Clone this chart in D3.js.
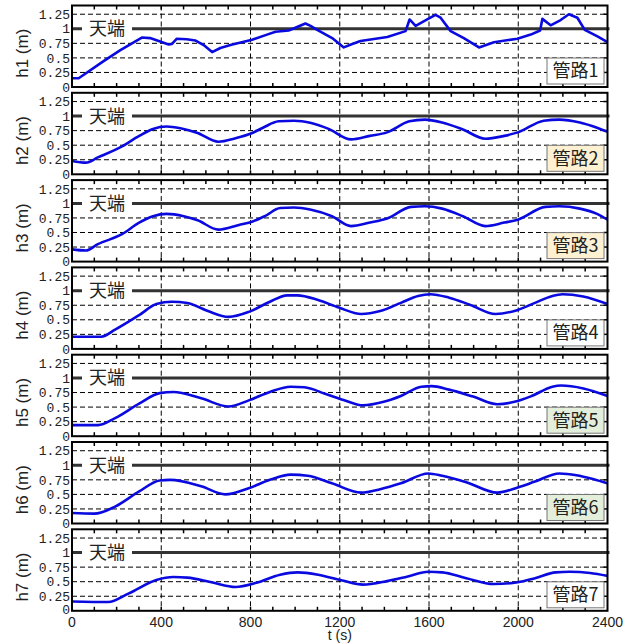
<!DOCTYPE html>
<html>
<head>
<meta charset="utf-8">
<script src="https://cdn.jsdelivr.net/npm/d3@7"></script>
<style>
  body { margin: 0; background: #fff; }
  svg { display: block; }
</style>
</head>
<body>
<div id="container"></div>
<script>
// t (s), h (m)
const h1 = [[0,0.15],[30,0.15],[140,0.44],[215,0.63],[313,0.85],[350,0.84],[433,0.73],[448,0.74],[470,0.83],[515,0.82],[552,0.8],[590,0.72],[628,0.6],[665,0.67],[710,0.72],[807,0.81],[874,0.9],[912,0.95],[971,0.97],[1009,1.03],[1046,1.09],[1069,1.05],[1099,0.98],[1166,0.84],[1218,0.68],[1250,0.73],[1293,0.79],[1413,0.86],[1495,0.96],[1513,1.16],[1540,1.05],[1592,1.16],[1629,1.24],[1652,1.19],[1697,0.96],[1756,0.84],[1824,0.68],[1891,0.77],[1996,0.83],[2056,0.9],[2098,0.97],[2108,1.17],[2145,1.06],[2190,1.15],[2227,1.25],[2265,1.19],[2298,0.98],[2355,0.87],[2400,0.77]];
const h2 = [[0,0.23],[62,0.2],[116,0.29],[224,0.48],[301,0.66],[363,0.78],[424,0.82],[486,0.79],[563,0.71],[656,0.56],[733,0.62],[802,0.7],[856,0.8],[926,0.91],[995,0.92],[1072,0.88],[1150,0.78],[1250,0.6],[1335,0.66],[1412,0.72],[1512,0.91],[1582,0.94],[1659,0.89],[1752,0.77],[1852,0.61],[1937,0.66],[1998,0.72],[2114,0.92],[2184,0.94],[2276,0.89],[2353,0.8],[2400,0.73]];
const h3 = [[0,0.21],[62,0.19],[116,0.3],[224,0.47],[301,0.67],[363,0.78],[424,0.82],[501,0.78],[563,0.71],[656,0.55],[748,0.63],[810,0.69],[864,0.78],[933,0.92],[995,0.93],[1072,0.89],[1165,0.78],[1250,0.61],[1335,0.67],[1412,0.74],[1520,0.94],[1582,0.95],[1659,0.91],[1752,0.78],[1852,0.61],[1937,0.67],[1998,0.72],[2122,0.94],[2184,0.95],[2276,0.91],[2353,0.82],[2400,0.72]];
const h4 = [[0,0.21],[131,0.21],[193,0.33],[301,0.58],[378,0.77],[447,0.81],[517,0.79],[609,0.65],[702,0.55],[795,0.64],[887,0.81],[964,0.92],[1010,0.92],[1103,0.84],[1196,0.71],[1296,0.6],[1381,0.65],[1474,0.79],[1551,0.91],[1605,0.94],[1690,0.88],[1783,0.76],[1898,0.6],[1998,0.67],[2075,0.79],[2153,0.91],[2199,0.94],[2291,0.9],[2400,0.77]];
const h5 = [[0,0.19],[116,0.19],[193,0.31],[301,0.56],[393,0.74],[455,0.76],[579,0.65],[702,0.51],[795,0.62],[887,0.76],[980,0.85],[1042,0.84],[1134,0.73],[1227,0.61],[1304,0.53],[1397,0.59],[1474,0.69],[1566,0.85],[1612,0.86],[1690,0.8],[1798,0.68],[1906,0.55],[1983,0.59],[2060,0.69],[2153,0.85],[2192,0.87],[2292,0.82],[2400,0.69]];
const h6 = [[0,0.18],[100,0.17],[193,0.29],[301,0.55],[393,0.74],[440,0.75],[579,0.64],[687,0.5],[795,0.61],[887,0.75],[980,0.84],[1057,0.82],[1165,0.69],[1296,0.53],[1381,0.59],[1474,0.69],[1597,0.86],[1659,0.82],[1767,0.71],[1906,0.53],[1998,0.62],[2075,0.72],[2184,0.86],[2261,0.83],[2338,0.76],[2400,0.69]];
const h7 = [[0,0.16],[162,0.15],[255,0.3],[378,0.53],[455,0.58],[517,0.57],[625,0.49],[733,0.41],[826,0.48],[933,0.62],[1011,0.66],[1103,0.62],[1211,0.52],[1304,0.45],[1412,0.51],[1505,0.59],[1597,0.67],[1659,0.66],[1767,0.56],[1890,0.46],[1998,0.49],[2075,0.56],[2168,0.66],[2230,0.67],[2322,0.65],[2400,0.6]];

const series = [h1, h2, h3, h4, h5, h6, h7];
const yLabels = ['h1 (m)', 'h2 (m)', 'h3 (m)', 'h4 (m)', 'h5 (m)', 'h6 (m)', 'h7 (m)'];
const pipeNames = ['管路1', '管路2', '管路3', '管路4', '管路5', '管路6', '管路7'];
const pipeFills = ['#ffffff', '#fdf1d2', '#fdf1d2', '#ffffff', '#e3efdb', '#e3efdb', '#ffffff'];
const yTicks = [0, 0.25, 0.5, 0.75, 1, 1.25];
const yTickText = ['0', '0.25', '0.5', '0.75', '1', '1.25'];
const xTicks = [0, 400, 800, 1200, 1600, 2000, 2400];
const crownLevel = 1;
const crownLabel = '天端';

const W = 633, H = 643;
const left = 72, right = 607.5;
const panelTop0 = 5.5, panelH = 81.5, pitch = 87.3;

const svg = d3.select('#container').append('svg')
  .attr('width', W).attr('height', H);

const x = d3.scaleLinear().domain([0, 2400]).range([left, right]);
const jp = '"Noto Sans CJK JP", "Noto Sans", sans-serif';

series.forEach((data, i) => {
  const top = panelTop0 + i * pitch;
  const bottom = top + panelH;
  const y = d3.scaleLinear().domain([0, 1.4]).range([bottom, top]);
  const g = svg.append('g');
  const isLast = i === series.length - 1;

  // dashed grid
  g.selectAll('.hg').data(yTicks.filter(d => d > 0)).join('line')
    .attr('x1', left).attr('x2', right)
    .attr('y1', d => y(d)).attr('y2', d => y(d))
    .attr('stroke', '#000').attr('stroke-width', 1).attr('stroke-dasharray', '5,3');
  g.selectAll('.vg').data(xTicks.slice(1, -1)).join('line')
    .attr('x1', d => x(d)).attr('x2', d => x(d))
    .attr('y1', top).attr('y2', bottom)
    .attr('stroke', '#000').attr('stroke-width', 1).attr('stroke-dasharray', '5,3');

  // inward minor ticks on top and bottom
  const minor = d3.range(100, 2400, 100);
  g.selectAll('.tt').data(minor).join('line')
    .attr('x1', d => x(d)).attr('x2', d => x(d))
    .attr('y1', top).attr('y2', top + 4)
    .attr('stroke', '#000').attr('stroke-width', 1.5);
  g.selectAll('.bt').data(minor).join('line')
    .attr('x1', d => x(d)).attr('x2', d => x(d))
    .attr('y1', bottom).attr('y2', bottom - 4)
    .attr('stroke', '#000').attr('stroke-width', 1.5);
  g.selectAll('.rt').data(yTicks.filter(d => d > 0)).join('line')
    .attr('x1', right).attr('x2', right - 4)
    .attr('y1', d => y(d)).attr('y2', d => y(d))
    .attr('stroke', '#000').attr('stroke-width', 1.5);

  // crown line with label
  g.append('line')
    .attr('x1', left).attr('x2', right + 2)
    .attr('y1', y(crownLevel)).attr('y2', y(crownLevel))
    .attr('stroke', '#333').attr('stroke-width', 3);
  g.append('rect')
    .attr('x', left + 10).attr('y', y(crownLevel) - 9)
    .attr('width', 50).attr('height', 18)
    .attr('fill', '#fff');
  g.append('text')
    .attr('x', left + 35).attr('y', y(crownLevel))
    .attr('dy', '0.36em')
    .attr('text-anchor', 'middle')
    .attr('font-family', jp).attr('font-size', 18)
    .attr('fill', '#222')
    .text(crownLabel);

  // water level
  const line = d3.line()
    .x(d => x(d[0])).y(d => y(d[1]))
    .curve(i === 0 ? d3.curveLinear : d3.curveMonotoneX);
  g.append('path')
    .datum(data)
    .attr('d', line)
    .attr('fill', 'none')
    .attr('stroke', '#0a0ae0')
    .attr('stroke-width', 2.6)
    .attr('stroke-linejoin', 'round');

  // frame
  g.append('rect')
    .attr('x', left).attr('y', top)
    .attr('width', right - left).attr('height', panelH)
    .attr('fill', 'none').attr('stroke', '#000').attr('stroke-width', 2);

  // y tick labels; on the last panel the "0" sits a bit high to clear the x labels
  g.selectAll('.yl').data(yTicks).join('text')
    .attr('x', left - 2).attr('y', d => y(d))
    .attr('dy', d => (isLast && d === 0) ? '0.28em' : '0.36em')
    .attr('text-anchor', 'end')
    .attr('font-family', '"Liberation Mono", "DejaVu Sans Mono", monospace')
    .attr('font-size', 13)
    .attr('fill', '#222')
    .text((d, k) => yTickText[k]);

  // y title
  g.append('text')
    .attr('transform', `translate(28,${(top + bottom) / 2 + 7}) rotate(-90)`)
    .attr('text-anchor', 'middle')
    .attr('font-family', '"Liberation Sans", sans-serif')
    .attr('font-size', 17)
    .attr('fill', '#222')
    .text(yLabels[i]);

  // pipe legend
  const bw = 57, bh = 26;
  g.append('rect')
    .attr('x', right - 3.5 - bw).attr('y', bottom - 3 - bh)
    .attr('width', bw).attr('height', bh)
    .attr('fill', pipeFills[i]).attr('stroke', '#777').attr('stroke-width', 1);
  g.append('text')
    .attr('x', right - 3.5 - bw / 2).attr('y', bottom - 3 - bh / 2)
    .attr('dy', '0.36em')
    .attr('text-anchor', 'middle')
    .attr('font-family', jp).attr('font-size', 18)
    .attr('fill', '#222')
    .text(pipeNames[i]);
});

// x axis labels under the last panel
const lastBottom = panelTop0 + 6 * pitch + panelH;
svg.selectAll('.xl').data(xTicks).join('text')
  .attr('x', d => x(d)).attr('y', lastBottom + 11)
  .attr('dy', '0.36em')
  .attr('text-anchor', 'middle')
  .attr('font-family', '"Liberation Sans", sans-serif')
  .attr('font-size', 14)
  .attr('fill', '#222')
  .text(d => d);

svg.append('text')
  .attr('x', (left + right) / 2).attr('y', lastBottom + 24.5)
  .attr('dy', '0.36em')
  .attr('text-anchor', 'middle')
  .attr('font-family', '"Liberation Sans", sans-serif')
  .attr('font-size', 14)
  .attr('fill', '#222')
  .text('t (s)');
</script>
</body>
</html>
